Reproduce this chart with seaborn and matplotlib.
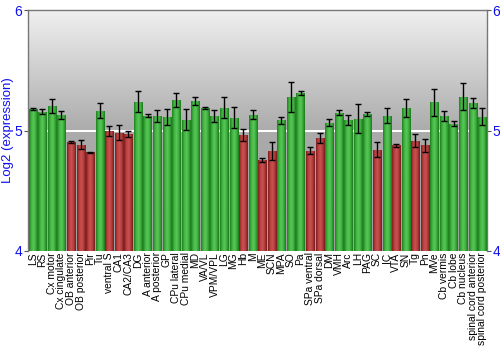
import numpy as np
import pandas as pd
import matplotlib
matplotlib.use("Agg")
import matplotlib.pyplot as plt
import seaborn as sns
from matplotlib.colors import LinearSegmentedColormap

regions = ["LS", "RS", "Cx motor", "Cx cingulate", "OB anterior", "OB posterior",
           "Pir", "Tu", "ventral S", "CA1", "CA2/CA3", "DG", "A anterior",
           "A posterior", "GP", "CPu lateral", "CPu medial", "MD", "VA/VL",
           "VPM/VPL", "LG", "MG", "Hb", "M", "ME", "SCN", "MPA", "SO", "Pa",
           "SPa ventral", "SPa dorsal", "DM", "VMH", "Arc", "LH", "PAG", "SC",
           "IC", "VTA", "SN", "Tg", "Pn", "MVe", "Cb vermis", "Cb lobe",
           "Cb nucleus", "spinal cord anterior", "spinal cord posterior"]

expression = [5.180, 5.158, 5.207, 5.127, 4.906, 4.884, 4.820, 5.166, 4.995,
              4.983, 4.970, 5.238, 5.122, 5.122, 5.110, 5.257, 5.091, 5.246,
              5.188, 5.119, 5.188, 5.108, 4.961, 5.130, 4.757, 4.828, 5.086,
              5.279, 5.315, 4.834, 4.939, 5.066, 5.147, 5.086, 5.100, 5.141,
              4.842, 5.124, 4.878, 5.188, 4.917, 4.876, 5.235, 5.122, 5.058,
              5.279, 5.227, 5.116]

error = [0.011, 0.024, 0.058, 0.033, 0.011, 0.037, 0.003, 0.062, 0.044, 0.060,
         0.023, 0.088, 0.012, 0.051, 0.065, 0.058, 0.087, 0.036, 0.005, 0.051,
         0.087, 0.087, 0.050, 0.037, 0.017, 0.076, 0.028, 0.123, 0.017, 0.029,
         0.041, 0.030, 0.021, 0.041, 0.122, 0.017, 0.064, 0.061, 0.014, 0.076,
         0.054, 0.051, 0.112, 0.041, 0.021, 0.112, 0.041, 0.072]

y_ticks = [4, 5, 6]
baseline = 4
threshold = 5

df = pd.DataFrame({"region": regions, "expression": expression, "error": error})
df["height"] = df["expression"] - baseline
low = df["expression"] < threshold
bar_colors = np.where(low, "#b03434", "#34a834").tolist()

plt.rcParams["font.family"] = ["Liberation Sans", "DejaVu Sans"]
fig = plt.figure(figsize=(5, 3.5), dpi=100)
ax = fig.add_axes([0.056, 0.283, 0.918, 0.688])

# one bar per region, rising from the bottom of the axis
sns.barplot(data=df, x="region", y="height", hue="region", bottom=baseline,
            palette=bar_colors, dodge=False, width=0.85, legend=False,
            ax=ax, zorder=3)

n = len(regions)
ax.set_xlim(-0.5, n - 0.5)
ax.set_ylim(4, 6)

# vertical gray gradient background
bg = LinearSegmentedColormap.from_list("bg", ["#a0a0a0", "#ababab", "#f0f0f0"])
ax.imshow(np.linspace(0, 1, 256).reshape(-1, 1), cmap=bg, aspect="auto",
          extent=(-0.5, n - 0.5, 4, 6), origin="lower", zorder=0)
ax.axhline(threshold, color="white", lw=1.5, zorder=1)

# cylindrical shading on each bar
green_shade = LinearSegmentedColormap.from_list(
    "g", ["#1e801e", "#42b442", "#58c858", "#3eae3e", "#1c781c"])
red_shade = LinearSegmentedColormap.from_list(
    "r", ["#7c1e1e", "#b94040", "#cc5252", "#b03c3c", "#761c1c"])
grad = np.linspace(0, 1, 64).reshape(1, -1)
for patch in list(ax.patches):
    h = patch.get_height()
    if not np.isfinite(h) or h <= 0:
        continue
    x0, y0, w = patch.get_x(), patch.get_y(), patch.get_width()
    idx = int(round(x0 + w / 2))
    cmap = red_shade if expression[idx] < threshold else green_shade
    im = ax.imshow(grad, cmap=cmap, aspect="auto",
                   extent=(x0, x0 + w, y0, y0 + h), zorder=4)
    im.set_clip_path(patch)

ax.errorbar(np.arange(n), df["expression"], yerr=df["error"],
            fmt="none", ecolor="black", elinewidth=1.0, capsize=2.2,
            capthick=1.0, zorder=5)

ax.set_ylim(4, 6)
ax.set_xlim(-0.5, n - 0.5)
ax.set_yticks(y_ticks)
ax.set_yticklabels([str(t) for t in y_ticks])
ax.tick_params(axis="y", which="both", left=True, right=True, labelleft=True,
               labelright=True, colors="#555555", labelcolor="#1010ee",
               labelsize=10, length=3, pad=1)
ax.tick_params(axis="x", length=0, labelsize=7.4, pad=1)
ax.set_xticks(range(n))
ax.set_xticklabels(regions, rotation=90)
ax.set_xlabel("")
ax.set_ylabel("Log2 (expression)", color="#1010ee", fontsize=9.5)
ax.yaxis.set_label_coords(-0.03, 0.5)

for side in ["left", "right", "top"]:
    ax.spines[side].set_color("#777777")
    ax.spines[side].set_linewidth(1.0)
ax.spines["bottom"].set_visible(False)

fig.savefig("out.png", dpi=100)
